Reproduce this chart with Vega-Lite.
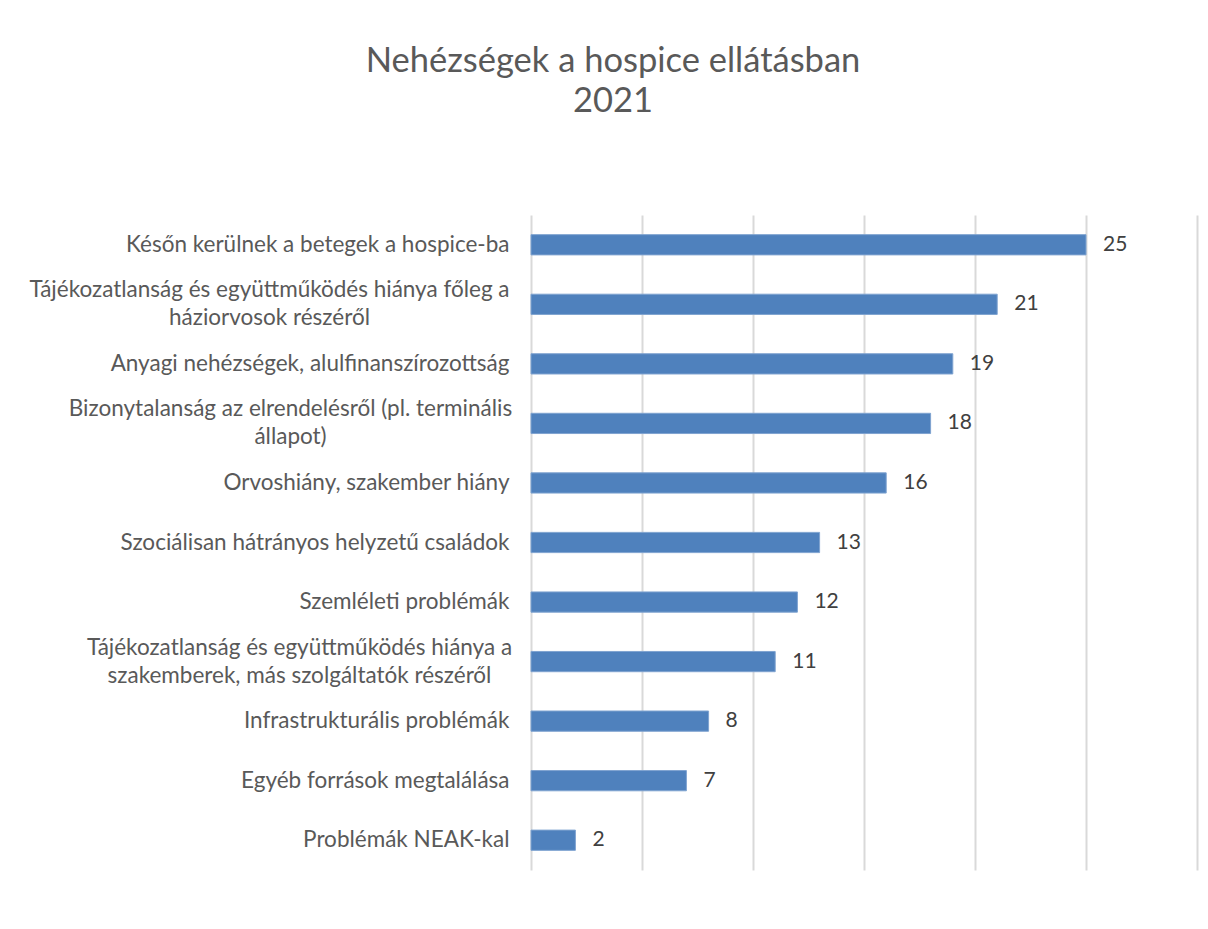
{
  "$schema": "https://vega.github.io/schema/vega-lite/v6.json",
  "width": 666,
  "height": 655,
  "autosize": "none",
  "padding": {"left": 531, "top": 215, "right": 11, "bottom": 59},
  "background": "white",
  "title": {
    "text": ["Nehézségek a hospice ellátásban", "2021"],
    "anchor": "middle",
    "frame": "group",
    "dx": -251,
    "offset": 96,
    "font": "Lato",
    "fontSize": 34.5,
    "fontWeight": "normal",
    "color": "#595959",
    "lineHeight": 40
  },
  "data": {
    "values": [
      {"problema": "Későn kerülnek a betegek a hospice-ba", "db": 25},
      {"problema": "Tájékozatlanság és együttműködés hiánya főleg a háziorvosok részéről", "db": 21},
      {"problema": "Anyagi nehézségek, alulfinanszírozottság", "db": 19},
      {"problema": "Bizonytalanság az elrendelésről (pl. terminális állapot)", "db": 18},
      {"problema": "Orvoshiány, szakember hiány", "db": 16},
      {"problema": "Szociálisan hátrányos helyzetű családok", "db": 13},
      {"problema": "Szemléleti problémák", "db": 12},
      {"problema": "Tájékozatlanság és együttműködés hiánya a szakemberek, más szolgáltatók részéről", "db": 11},
      {"problema": "Infrastrukturális problémák", "db": 8},
      {"problema": "Egyéb források megtalálása", "db": 7},
      {"problema": "Problémák NEAK-kal", "db": 2}
    ]
  },
  "encoding": {
    "y": {
      "field": "problema",
      "type": "nominal",
      "sort": null,
      "scale": {"paddingInner": 0.66, "paddingOuter": 0.33},
      "axis": {
        "title": null,
        "domain": false,
        "ticks": false,
        "labelFont": "Lato",
        "labelFontSize": 22.5,
        "labelColor": "#595959",
        "labelLimit": 700,
        "labelLineHeight": 28,
        "labelAlign": {"condition": {"test": "length(datum.value) > 50", "value": "center"}, "value": "right"},
        "labelOffset": {"condition": {"test": "length(datum.value) > 50", "value": -14}, "value": 0},
        "labelPadding": {"condition": [
          {"test": "length(datum.value) > 75", "value": 232},
          {"test": "length(datum.value) > 60", "value": 262},
          {"test": "length(datum.value) > 50", "value": 241}
        ], "value": 22},
        "labelExpr": "datum.value == 'Tájékozatlanság és együttműködés hiánya főleg a háziorvosok részéről' ? ['Tájékozatlanság és együttműködés hiánya főleg a', 'háziorvosok részéről'] : datum.value == 'Bizonytalanság az elrendelésről (pl. terminális állapot)' ? ['Bizonytalanság az elrendelésről (pl. terminális', 'állapot)'] : datum.value == 'Tájékozatlanság és együttműködés hiánya a szakemberek, más szolgáltatók részéről' ? ['Tájékozatlanság és együttműködés hiánya a', 'szakemberek, más szolgáltatók részéről'] : datum.label"
      }
    },
    "x": {
      "field": "db",
      "type": "quantitative",
      "scale": {"domain": [0, 30], "nice": false},
      "axis": {
        "title": null,
        "values": [0, 5, 10, 15, 20, 25, 30],
        "labels": false,
        "ticks": false,
        "domain": false,
        "grid": true,
        "gridColor": "#d9d9d9",
        "gridWidth": 2
      }
    }
  },
  "layer": [
    {"mark": {"type": "bar", "color": "#4f81bd", "stroke": "#7fa3d0", "strokeWidth": 1}},
    {
      "mark": {"type": "text", "align": "left", "baseline": "middle", "dx": 17, "font": "Lato", "fontSize": 21, "color": "#404040"},
      "encoding": {"text": {"field": "db", "type": "quantitative"}}
    }
  ],
  "config": {"view": {"stroke": null}}
}
